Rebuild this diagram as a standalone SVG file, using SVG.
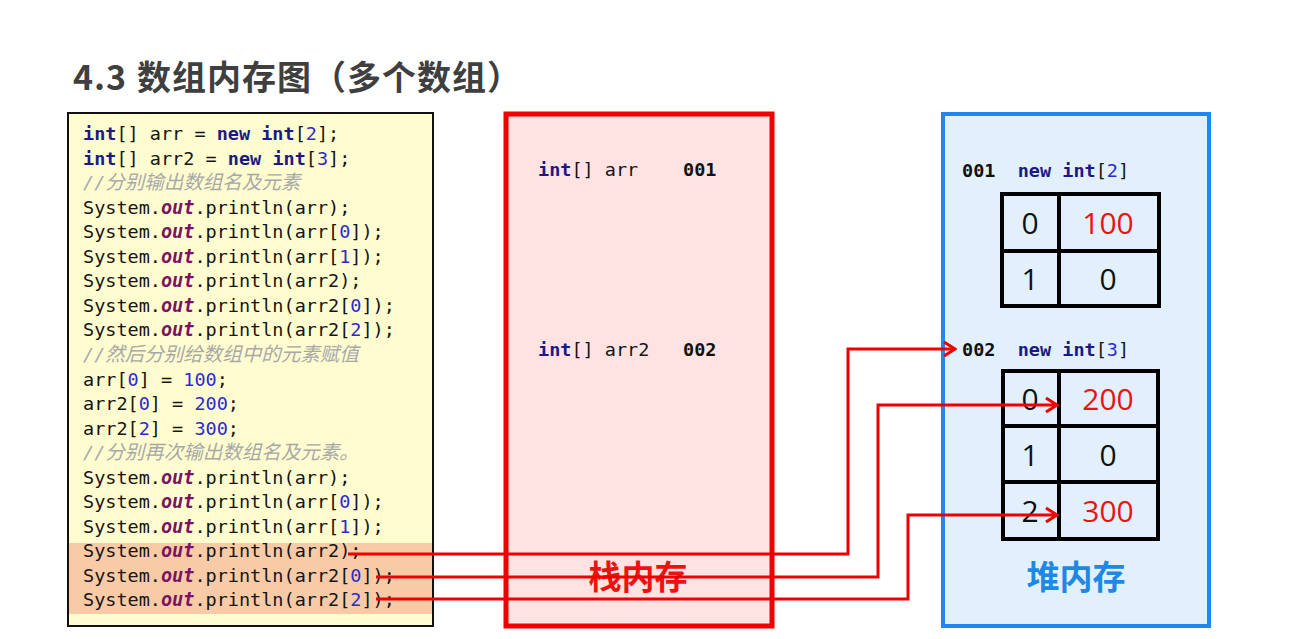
<svg xmlns="http://www.w3.org/2000/svg" width="1316" height="639" viewBox="0 0 1316 639">
<style>
.title{font-family:"Noto Sans CJK SC","Noto Sans",sans-serif;font-size:34px;font-weight:bold;fill:#3f3f3f;letter-spacing:1px}
.c{font-family:"DejaVu Sans Mono","Noto Sans CJK SC",monospace;font-size:18.5px;fill:#141414;white-space:pre}
.k{fill:#1a1a86;font-weight:bold}
.n{fill:#2a2ad2}
.o{fill:#7a1462;font-weight:bold;font-style:italic}
.cm{fill:#a8a8a8;font-style:italic}
.cj{font-family:"Noto Sans CJK SC",sans-serif;font-size:19.5px}
.b{font-weight:bold;fill:#111}
.cell{fill:none;stroke:#000;stroke-width:4}
.num{font-family:"Open Sans","Noto Sans",sans-serif;font-size:30px;fill:#111;text-anchor:middle}
.red{fill:#ee1111}
.lbl{font-family:"Noto Sans CJK SC",sans-serif;font-size:33px;font-weight:bold;text-anchor:middle}
.conn{fill:none;stroke:#ee0000;stroke-width:3}
</style>
<defs>
<marker id="arr" markerUnits="userSpaceOnUse" markerWidth="14" markerHeight="16" refX="12" refY="8" orient="auto">
<path d="M1,1 L12,8 L1,15" fill="none" stroke="#ee0000" stroke-width="3"/>
</marker>
</defs>
<rect width="1316" height="639" fill="#ffffff"/>
<text class="title" x="73" y="90">4.3<tspan x="137">数组内存图（多个数组）</tspan></text>

<g id="code">
<rect x="68" y="113" width="365" height="513" fill="#fffdd0" stroke="#111" stroke-width="2"/>
<rect x="69" y="543" width="363" height="71" fill="#f9caa6"/>
<text class="c" x="83" y="140"><tspan class="k">int</tspan>[] arr = <tspan class="k">new</tspan> <tspan class="k">int</tspan>[<tspan class="n">2</tspan>];</text>
<text class="c" x="83" y="164.55"><tspan class="k">int</tspan>[] arr2 = <tspan class="k">new</tspan> <tspan class="k">int</tspan>[<tspan class="n">3</tspan>];</text>
<text class="c cm" x="83" y="189.1">//<tspan class="cj">分别输出数组名及元素</tspan></text>
<text class="c" x="83" y="213.65">System.<tspan class="o">out</tspan>.println(arr);</text>
<text class="c" x="83" y="238.2">System.<tspan class="o">out</tspan>.println(arr[<tspan class="n">0</tspan>]);</text>
<text class="c" x="83" y="262.75">System.<tspan class="o">out</tspan>.println(arr[<tspan class="n">1</tspan>]);</text>
<text class="c" x="83" y="287.3">System.<tspan class="o">out</tspan>.println(arr2);</text>
<text class="c" x="83" y="311.85">System.<tspan class="o">out</tspan>.println(arr2[<tspan class="n">0</tspan>]);</text>
<text class="c" x="83" y="336.4">System.<tspan class="o">out</tspan>.println(arr2[<tspan class="n">2</tspan>]);</text>
<text class="c cm" x="83" y="360.95">//<tspan class="cj">然后分别给数组中的元素赋值</tspan></text>
<text class="c" x="83" y="385.5">arr[<tspan class="n">0</tspan>] = <tspan class="n">100</tspan>;</text>
<text class="c" x="83" y="410.05">arr2[<tspan class="n">0</tspan>] = <tspan class="n">200</tspan>;</text>
<text class="c" x="83" y="434.6">arr2[<tspan class="n">2</tspan>] = <tspan class="n">300</tspan>;</text>
<text class="c cm" x="83" y="459.15">//<tspan class="cj">分别再次输出数组名及元素。</tspan></text>
<text class="c" x="83" y="483.7">System.<tspan class="o">out</tspan>.println(arr);</text>
<text class="c" x="83" y="508.25">System.<tspan class="o">out</tspan>.println(arr[<tspan class="n">0</tspan>]);</text>
<text class="c" x="83" y="532.8">System.<tspan class="o">out</tspan>.println(arr[<tspan class="n">1</tspan>]);</text>
<text class="c" x="83" y="557.35">System.<tspan class="o">out</tspan>.println(arr2);</text>
<text class="c" x="83" y="581.9">System.<tspan class="o">out</tspan>.println(arr2[<tspan class="n">0</tspan>]);</text>
<text class="c" x="83" y="606.45">System.<tspan class="o">out</tspan>.println(arr2[<tspan class="n">2</tspan>]);</text>
</g>

<g id="stack">
<rect x="506" y="114" width="266" height="512" fill="#ffe3e3" stroke="#f00000" stroke-width="5"/>
<text class="c" x="538" y="176"><tspan class="k">int</tspan>[] arr</text>
<text class="c b" x="683" y="176">001</text>
<text class="c" x="538" y="356"><tspan class="k">int</tspan>[] arr2</text>
<text class="c b" x="683" y="356">002</text>
<text class="lbl" x="638" y="589" fill="#ee1111">栈内存</text>
</g>

<g id="heap">
<rect x="943" y="114" width="266" height="512" fill="#e2f0fd" stroke="#1e88f0" stroke-width="4"/>
<text class="lbl" x="1076" y="589" fill="#1e88e5">堆内存</text>
</g>

<g id="array1">
<text class="c" x="962" y="177"><tspan class="b">001</tspan>  <tspan class="k">new</tspan> <tspan class="k">int</tspan>[<tspan class="n">2</tspan>]</text>
<rect class="cell" x="1002" y="194" width="157" height="112"/>
<line class="cell" x1="1059" y1="194" x2="1059" y2="306"/>
<line class="cell" x1="1002" y1="251" x2="1159" y2="251"/>
<text class="num" x="1030" y="234">0</text>
<text class="num red" x="1108" y="234">100</text>
<text class="num" x="1030" y="290">1</text>
<text class="num" x="1108" y="290">0</text>
</g>

<g id="array2">
<text class="c" x="962" y="356"><tspan class="b">002</tspan>  <tspan class="k">new</tspan> <tspan class="k">int</tspan>[<tspan class="n">3</tspan>]</text>
<rect class="cell" x="1003" y="371" width="155" height="168"/>
<line class="cell" x1="1059" y1="371" x2="1059" y2="539"/>
<line class="cell" x1="1003" y1="426" x2="1158" y2="426"/>
<line class="cell" x1="1003" y1="482" x2="1158" y2="482"/>
<text class="num" x="1030" y="410">0</text>
<text class="num red" x="1108" y="410">200</text>
<text class="num" x="1030" y="466">1</text>
<text class="num" x="1108" y="466">0</text>
<text class="num" x="1030" y="522">2</text>
<text class="num red" x="1108" y="522">300</text>
</g>

<g id="connectors">
<path class="conn" d="M348,554 H848 V349 H955" marker-end="url(#arr)"/>
<path class="conn" d="M376,577 H878 V405 H1057" marker-end="url(#arr)"/>
<path class="conn" d="M376,599 H908 V515 H1057" marker-end="url(#arr)"/>
</g>
</svg>
